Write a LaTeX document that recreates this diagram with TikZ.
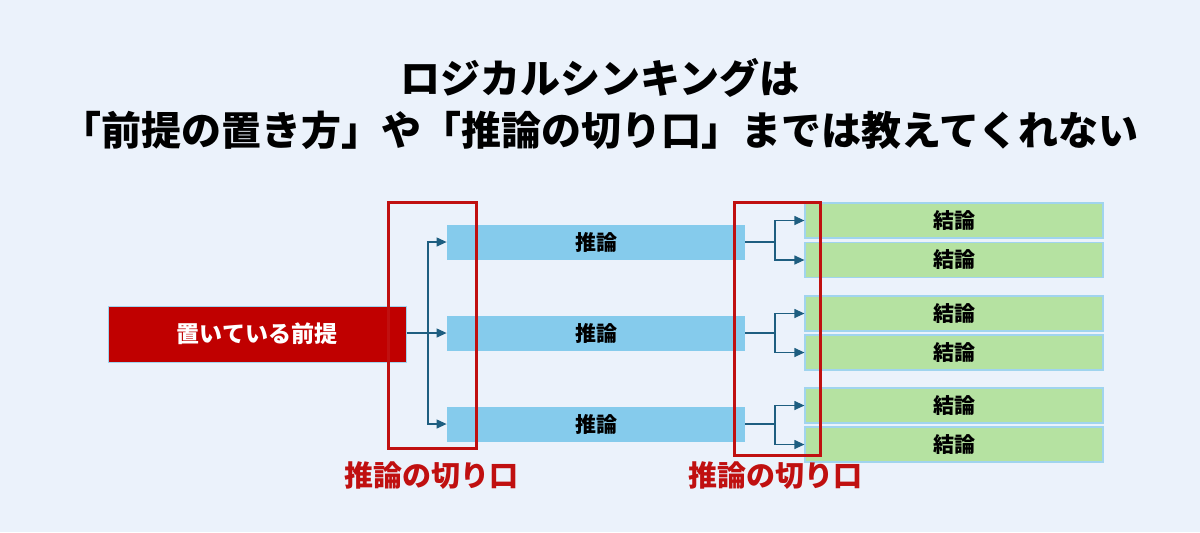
\documentclass[tikz,border=0pt]{standalone}
\usepackage{fontspec}
\setmainfont{Noto Sans CJK JP}
\usetikzlibrary{arrows.meta, positioning}
\definecolor{bgblue}{RGB}{235,242,251}
\definecolor{premred}{RGB}{192,0,0}
\definecolor{infblue}{RGB}{133,203,236}
\definecolor{conclgreen}{RGB}{181,226,161}
\definecolor{conclborder}{RGB}{160,212,238}
\definecolor{linkblue}{RGB}{30,94,128}
\definecolor{framered}{RGB}{192,16,16}
\tikzset{
    premise/.style={fill = premred, draw = conclborder, line width = 0.5pt,
        minimum width = 149pt, minimum height = 28pt, inner sep = 0pt,
        text = white, font = \fontsize{11.5}{14}\selectfont\bfseries},
    inference/.style={fill = infblue, minimum width = 149pt, minimum height = 17.5pt,
        inner sep = 0pt, font = \fontsize{10.5}{12}\selectfont\bfseries},
    conclusion/.style={fill = conclgreen, draw = conclborder, line width = 0.6pt,
        minimum width = 149pt, minimum height = 17.5pt,
        inner sep = 0pt, font = \fontsize{10.5}{12}\selectfont\bfseries},
    link/.style={draw = linkblue, line width = 0.6pt},
    cutframe/.style={draw = framered, line width = 1.5pt},
    cutlabel/.style={text = framered, font = \fontsize{14.5}{17}\selectfont\bfseries}
}

\begin{document}
\begin{tikzpicture}[x=0.5pt, y=-0.5pt, >={Triangle[length=5pt, width=4.5pt]}]
        \fill[bgblue] (0, 0) rectangle (1200, 532);
        \useasboundingbox (0, 0) rectangle (1200, 532);

        \node[font = \fontsize{20}{26}\selectfont\bfseries, align = center] (title) at (600, 104)
            {ロジカルシンキングは\\「前提の置き方」や「推論の切り口」までは教えてくれない};

        \node[premise] (prem) at (257, 334) {置いている前提};

        \node[inference] (inf1) at (596, 242) {推論};
        \node[inference] (inf2) at (596, 333) {推論};
        \node[inference] (inf3) at (596, 424) {推論};

        \node[conclusion] (con1) at (954, 220.5) {結論};
        \node[conclusion] (con2) at (954, 260) {結論};
        \node[conclusion] (con3) at (954, 313.5) {結論};
        \node[conclusion] (con4) at (954, 352.5) {結論};
        \node[conclusion] (con5) at (954, 405.5) {結論};
        \node[conclusion] (con6) at (954, 444.5) {結論};

        % premise to inferences
        \coordinate (fork) at (428, 333);
        \draw[link, ->] (prem.east |- fork) -- (inf2.west);
        \draw[link, ->] (fork) |- (inf1.west);
        \draw[link, ->] (fork) |- (inf3.west);

        % inferences to conclusions
        \coordinate (split1) at (775, 242);
        \draw[link] (inf1.east) -- (split1);
        \draw[link, ->] (split1) |- (con1.west);
        \draw[link, ->] (split1) |- (con2.west);

        \coordinate (split2) at (775, 333);
        \draw[link] (inf2.east) -- (split2);
        \draw[link, ->] (split2) |- (con3.west);
        \draw[link, ->] (split2) |- (con4.west);

        \coordinate (split3) at (775, 424);
        \draw[link] (inf3.east) -- (split3);
        \draw[link, ->] (split3) |- (con5.west);
        \draw[link, ->] (split3) |- (con6.west);

        % cut frames
        \draw[cutframe] (388, 202) rectangle (476, 448);
        \draw[cutframe] (734, 202) rectangle (820, 455);
        \node[cutlabel] (cut1) at (431, 476) {推論の切り口};
        \node[cutlabel] (cut2) at (775, 476) {推論の切り口};
    \end{tikzpicture}
\end{document}
